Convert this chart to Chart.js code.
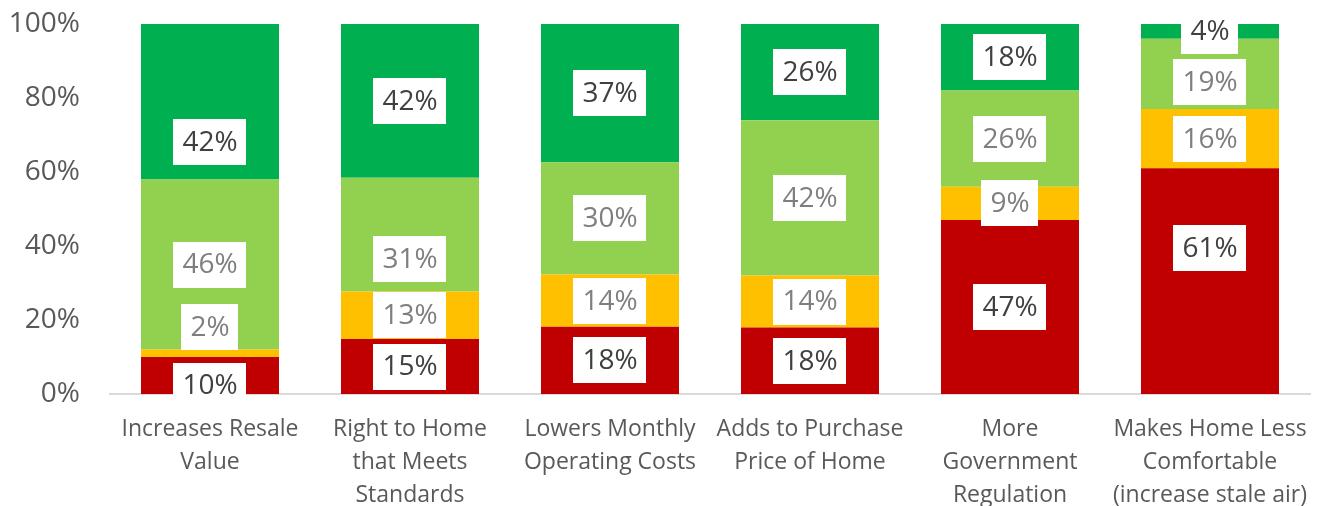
<!DOCTYPE html>
<html>
<head>
<meta charset="utf-8">
<script src="https://cdn.jsdelivr.net/npm/chart.js@4.4.0/dist/chart.umd.min.js"></script>
<style>
  html, body { margin: 0; padding: 0; background: #fff; }
  #wrap { width: 1322px; height: 506px; }
</style>
</head>
<body>
<div id="wrap"><canvas id="chart"></canvas></div>
<script>
// categories (multi-line labels)
var categories = [
  ["Increases Resale", "Value"],
  ["Right to Home", "that Meets", "Standards"],
  ["Lowers Monthly", "Operating Costs"],
  ["Adds to Purchase", "Price of Home"],
  ["More", "Government", "Regulation"],
  ["Makes Home Less", "Comfortable", "(increase stale air)"]
];

// series values, percent (as printed on the labels)
var redVals = [10, 15, 18, 18, 47, 61];
var orangeVals = [2, 13, 14, 14, 9, 16];
var lightGreenVals = [46, 31, 30, 42, 26, 19];
var greenVals = [42, 42, 37, 26, 18, 4];

var yTicks = [0, 20, 40, 60, 80, 100];

var series = [redVals, orangeVals, lightGreenVals, greenVals];
var colors = ["#C00000", "#FFC000", "#92D050", "#00B050"];
var labelColors = ["#404040", "#7F7F7F", "#7F7F7F", "#404040"];

// 100% stacked: each column is scaled to its own total
var totals = categories.map(function (c, i) {
  return series.reduce(function (s, arr) { return s + arr[i]; }, 0);
});

// hand-placed labels in the original (category-dataset: pixel shift)
var labelNudge = { "0-0": 10, "0-1": -26, "0-3": 40, "1-2": 24, "5-2": 8, "5-0": -33 };

var datasets = series.map(function (arr, k) {
  return {
    label: "s" + k,
    data: arr.map(function (v, i) { return v / totals[i] * 100; }),
    raw: arr,
    backgroundColor: colors[k],
    borderWidth: 0,
    categoryPercentage: 1,
    barPercentage: 0.69
  };
});

var boxLabels = {
  id: "boxLabels",
  afterDatasetsDraw: function (chart) {
    var ctx = chart.ctx;
    ctx.save();
    ctx.font = "28px 'Open Sans'";
    ctx.textAlign = "center";
    ctx.textBaseline = "middle";
    chart.data.datasets.forEach(function (ds, k) {
      var meta = chart.getDatasetMeta(k);
      meta.data.forEach(function (bar, i) {
        var txt = ds.raw[i] + "%";
        var cy = (bar.y + bar.base) / 2 + (labelNudge[i + "-" + k] || 0);
        var w = ctx.measureText(txt).width + 18;
        var h = 46;
        ctx.fillStyle = "#fff";
        ctx.fillRect(Math.round(bar.x - w / 2), Math.round(cy - h / 2), Math.round(w), h);
        ctx.fillStyle = labelColors[k];
        ctx.fillText(txt, bar.x, cy + 1);
      });
    });
    ctx.restore();
  }
};

new Chart(document.getElementById("chart"), {
  type: "bar",
  data: { labels: categories, datasets: datasets },
  options: {
    responsive: true,
    maintainAspectRatio: false,
    animation: false,
    events: [],
    layout: { padding: { top: 24, right: 12, left: 0, bottom: 0 } },
    plugins: { legend: { display: false }, tooltip: { enabled: false } },
    scales: {
      x: {
        stacked: true,
        grid: { display: false },
        border: { display: true, color: "#D9D9D9", width: 2 },
        ticks: {
          color: "#595959",
          font: { family: "'Open Sans'", size: 23, lineHeight: 1.44 },
          padding: 11,
          maxRotation: 0,
          autoSkip: false
        },
        afterFit: function (scale) { scale.height = 112; }
      },
      y: {
        stacked: true,
        min: 0,
        max: 100,
        grid: { display: false },
        border: { display: false },
        afterBuildTicks: function (scale) {
          scale.ticks = yTicks.map(function (v) { return { value: v }; });
        },
        ticks: {
          color: "#595959",
          font: { family: "'Open Sans'", size: 28 },
          padding: 22,
          callback: function (v) { return v + "%"; }
        },
        afterFit: function (scale) {
          scale.width = 110;
          scale.paddingTop = 0;
          scale.paddingBottom = 0;
        }
      }
    }
  },
  plugins: [boxLabels]
});
</script>
</body>
</html>
